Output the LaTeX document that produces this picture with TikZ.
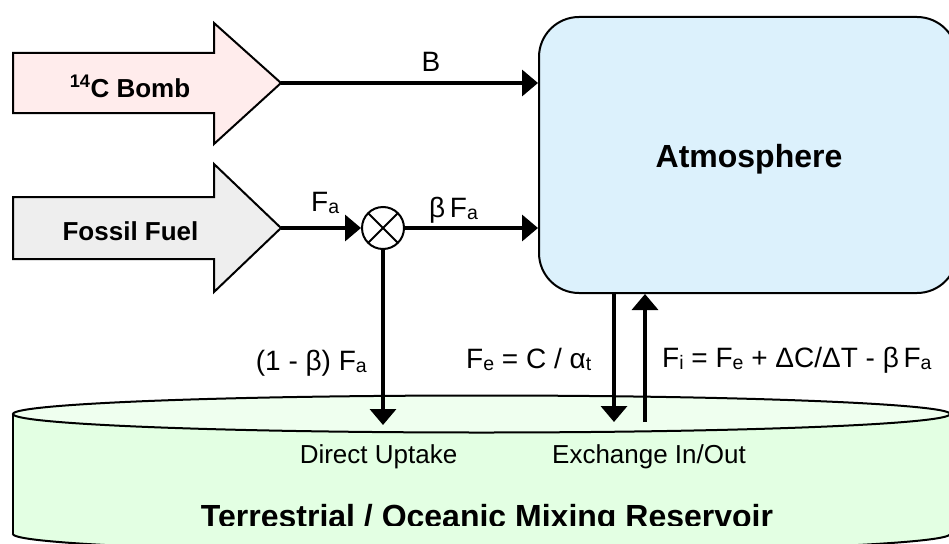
\documentclass[tikz,border=0pt]{standalone}
\usepackage{fontspec}
\setmainfont{Liberation Sans}
\usetikzlibrary{arrows.meta}
\definecolor{bombfill}{RGB}{255,236,236}
\definecolor{fossilfill}{RGB}{238,238,238}
\definecolor{atmfill}{RGB}{220,241,252}
\definecolor{cylside}{RGB}{227,255,227}
\definecolor{cyltop}{RGB}{239,255,239}
\newcommand\subs[1]{\raisebox{-0.1em}{\fontsize{19.5}{20}\selectfont #1}}
\begin{document}
\begin{tikzpicture}[x=1pt,y=-1pt,
  flow/.style={line width=3.5pt, -{Triangle[length=16pt,width=26pt]}},
  outline/.style={line width=2pt, line join=miter},
  lbl/.style={inner sep=0pt, anchor=base, font=\fontsize{28}{30}\selectfont},
  smlbl/.style={inner sep=0pt, anchor=base, font=\fontsize{26}{30}\selectfont},
  boldlbl/.style={inner sep=0pt, anchor=base, font=\fontsize{26}{30}\selectfont\bfseries},
  bigbold/.style={inner sep=0pt, anchor=base, font=\fontsize{32}{36}\selectfont\bfseries},
  atmbox/.style={draw, line width=2pt, fill=atmfill, rounded corners=40pt,
    minimum width=418pt, minimum height=276pt, inner sep=0pt},
  mulnode/.style={draw, circle, line width=2pt, fill=white, minimum size=42pt, inner sep=0pt}]
\useasboundingbox (0,0) rectangle (949,543);
% reservoir
\fill[cylside] (13,414) rectangle (950,534);
\fill[cylside] (481.5,534) ellipse [x radius=468.5pt, y radius=18.5pt];
\draw[outline] (13,414) -- (13,534) (950,414) -- (950,534);
\begin{scope}
  \clip (0,534) rectangle (960,600);
  \draw[outline] (481.5,534) ellipse [x radius=468.5pt, y radius=18.5pt];
\end{scope}
\filldraw[outline, fill=cyltop] (481.5,414) ellipse [x radius=468.5pt, y radius=18.5pt];
\begin{scope}
  \clip (0,0) rectangle (949,525);
  \node[bigbold] (restext) at (487,527) {Terrestrial / Oceanic Mixing Reservoir};
\end{scope}
\node[smlbl] (lDU) at (378.5,463) {Direct Uptake};
\node[smlbl] (lEx) at (649,463) {Exchange In/Out};
% source arrows
\filldraw[outline, fill=bombfill] (13,53) -- (214,53) -- (214,23) -- (281,83) -- (214,144) -- (214,113) -- (13,113) -- cycle;
\coordinate (bombtip) at (281,83);
\node[boldlbl] (bombtext) at (130,97) {\textsuperscript{14}C Bomb};
\filldraw[outline, fill=fossilfill] (13,197) -- (214,197) -- (214,164) -- (281,228) -- (214,292) -- (214,259) -- (13,259) -- cycle;
\coordinate (fosstip) at (281,228);
\node[boldlbl] (fosstext) at (130.5,240) {Fossil Fuel};
% atmosphere
\node[atmbox] (atm) at (748,155) {};
\node[bigbold] (atmtext) at (749,167) {Atmosphere};
% multiplier
\node[mulnode] (mul) at (383,228) {};
\draw[line width=1.8pt, shorten <=1.5pt, shorten >=1.5pt] (mul.north west) -- (mul.south east);
\draw[line width=1.8pt, shorten <=1.5pt, shorten >=1.5pt] (mul.north east) -- (mul.south west);
% connectors
\draw[flow] (bombtip) -- (bombtip -| atm.west);
\draw[flow] (fosstip) -- (mul.west);
\draw[flow] (mul.east) -- (mul.east -| atm.west);
\coordinate (upt) at (383,425);
\draw[flow] (mul.south) -- (upt);
\coordinate (feend) at (614,422);
\coordinate (fistart) at (645,422);
\draw[flow] (feend |- atm.south) -- (feend);
\draw[flow] (fistart) -- (fistart |- atm.south);
% labels
\node[lbl] (lB) at (431,71) {B};
\node[lbl, anchor=base west] (lFa) at (311,211) {F\subs{a}};
\node[lbl, anchor=base west] (lbFa) at (429,217) {β\,F\subs{a}};
\node[lbl, anchor=base east] (l1b) at (367,370) {(1 - β) F\subs{a}};
\node[lbl, anchor=base west] (lFe) at (466,368) {F\subs{e} = C / α\subs{t}};
\node[lbl, anchor=base west] (lFi) at (662,367) {F\subs{i} = F\subs{e} + ΔC/ΔT - β\,F\subs{a}};
\end{tikzpicture}
\end{document}
